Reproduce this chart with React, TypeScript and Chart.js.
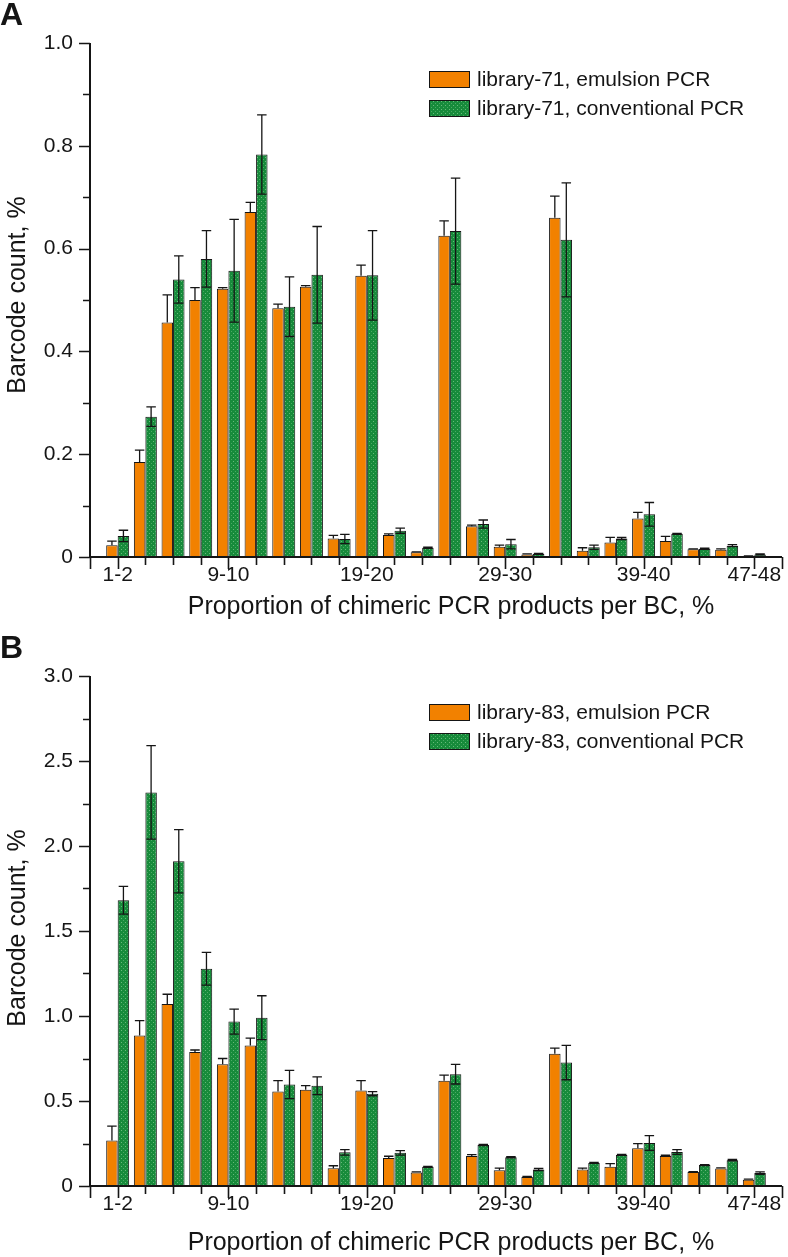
import React, { useEffect, useRef } from 'react';
import { Chart, registerables } from 'chart.js';

Chart.register(...registerables);

// ---------- data ----------
const categories = [
  '1-2', '3-4', '5-6', '7-8', '9-10', '11-12', '13-14', '15-16', '17-18', '19-20',
  '21-22', '23-24', '25-26', '27-28', '29-30', '31-32', '33-34', '35-36', '37-38', '39-40',
  '41-42', '43-44', '45-46', '47-48',
];
const shownTickLabels = ['1-2', '9-10', '19-20', '29-30', '39-40', '47-48'];

const a_emulsion = [0.023, 0.185, 0.456, 0.500, 0.522, 0.671, 0.484, 0.526, 0.036, 0.547, 0.043, 0.009, 0.625, 0.060, 0.020, 0.005, 0.660, 0.012, 0.028, 0.075, 0.031, 0.015, 0.014, 0.001];
const a_emulsionErr = [0.008, 0.023, 0.054, 0.024, 0.002, 0.019, 0.008, 0.002, 0.006, 0.021, 0.002, 0.001, 0.029, 0.002, 0.003, 0.001, 0.042, 0.006, 0.010, 0.012, 0.009, 0.001, 0.002, 0.001];
const a_conventional = [0.041, 0.273, 0.540, 0.580, 0.557, 0.783, 0.487, 0.549, 0.035, 0.548, 0.051, 0.018, 0.634, 0.064, 0.025, 0.006, 0.617, 0.019, 0.036, 0.083, 0.045, 0.016, 0.022, 0.005];
const a_conventionalErr = [0.011, 0.019, 0.046, 0.055, 0.100, 0.077, 0.058, 0.094, 0.009, 0.087, 0.005, 0.001, 0.103, 0.008, 0.009, 0.001, 0.111, 0.004, 0.002, 0.023, 0.001, 0.001, 0.002, 0.001];

const b_emulsion = [0.267, 0.885, 1.070, 0.788, 0.716, 0.827, 0.556, 0.566, 0.105, 0.562, 0.165, 0.080, 0.619, 0.177, 0.093, 0.053, 0.778, 0.097, 0.113, 0.222, 0.177, 0.082, 0.103, 0.037];
const b_emulsionErr = [0.085, 0.088, 0.058, 0.012, 0.034, 0.043, 0.064, 0.024, 0.014, 0.058, 0.010, 0.003, 0.033, 0.008, 0.012, 0.003, 0.033, 0.008, 0.019, 0.027, 0.004, 0.003, 0.004, 0.003];
const b_conventional = [1.681, 2.315, 1.910, 1.278, 0.967, 0.990, 0.597, 0.590, 0.198, 0.543, 0.195, 0.113, 0.658, 0.241, 0.169, 0.097, 0.726, 0.136, 0.183, 0.253, 0.200, 0.123, 0.152, 0.076];
const b_conventionalErr = [0.082, 0.275, 0.186, 0.096, 0.074, 0.129, 0.083, 0.052, 0.016, 0.012, 0.013, 0.003, 0.058, 0.004, 0.003, 0.006, 0.101, 0.003, 0.003, 0.043, 0.014, 0.003, 0.004, 0.007];

const yTitle = 'Barcode count, %';
const xTitle = 'Proportion of chimeric PCR products per BC, %';

// ---------- styles ----------
const FONT = '"Liberation Sans", Arial, Helvetica, sans-serif';
const ORANGE = '#f28100';
const GREEN = '#178b3b';
const INK = '#151515';

function greenPattern(): CanvasPattern | string {
  const c = document.createElement('canvas');
  c.width = 4;
  c.height = 4;
  const g = c.getContext('2d');
  if (!g) return GREEN;
  g.fillStyle = GREEN;
  g.fillRect(0, 0, 4, 4);
  g.fillStyle = 'rgba(170,225,175,0.55)';
  g.fillRect(1, 1, 1, 1);
  g.fillStyle = 'rgba(170,225,175,0.35)';
  g.fillRect(3, 3, 1, 1);
  const p = g.createPattern(c, 'repeat');
  return p || GREEN;
}

type PanelProps = {
  letter: string;
  top: number;
  height: number;
  xTitleY: number;
  yMax: number;
  yMajor: number;
  yMinor: number;
  emulsion: number[];
  emulsionErr: number[];
  conventional: number[];
  conventionalErr: number[];
  legend: string[];
};

function Panel(props: PanelProps) {
  const ref = useRef<HTMLCanvasElement | null>(null);

  useEffect(() => {
    const canvas = ref.current;
    if (!canvas) return;
    const pattern = greenPattern();
    const errs = [props.emulsionErr, props.conventionalErr];

    const decor = {
      id: 'decor',
      afterDatasetsDraw(chart: any) {
        const ctx = chart.ctx as CanvasRenderingContext2D;
        const xs = chart.scales.x;
        const ys = chart.scales.y;
        const area = chart.chartArea;
        ctx.save();
        // error bars
        ctx.strokeStyle = INK;
        ctx.lineWidth = 1.3;
        chart.data.datasets.forEach((ds: any, di: number) => {
          const meta = chart.getDatasetMeta(di);
          meta.data.forEach((bar: any, i: number) => {
            const v = ds.data[i].y;
            const e = errs[di][i];
            const x = bar.x;
            const half = bar.width / 2 - 1;
            const yTop = ys.getPixelForValue(v);
            const yUp = ys.getPixelForValue(v + e);
            ctx.beginPath();
            ctx.moveTo(x, yTop);
            ctx.lineTo(x, yUp);
            ctx.moveTo(x - half, yUp);
            ctx.lineTo(x + half, yUp);
            if (di === 1) {
              const yDn = ys.getPixelForValue(Math.max(0, v - e));
              ctx.moveTo(x, yTop);
              ctx.lineTo(x, yDn);
              ctx.moveTo(x - half, yDn);
              ctx.lineTo(x + half, yDn);
            }
            ctx.stroke();
          });
        });
        // axes
        ctx.strokeStyle = INK;
        ctx.lineWidth = 2;
        ctx.beginPath();
        ctx.moveTo(area.left, area.top);
        ctx.lineTo(area.left, area.bottom);
        ctx.lineTo(area.right, area.bottom);
        ctx.stroke();
        // y ticks
        ctx.lineWidth = 1.6;
        ctx.beginPath();
        const nMinor = Math.round(props.yMax / props.yMinor);
        for (let k = 0; k <= nMinor; k++) {
          const v = k * props.yMinor;
          const y = Math.round(ys.getPixelForValue(v)) + 0.5;
          const isMajor = Math.abs(v / props.yMajor - Math.round(v / props.yMajor)) < 1e-6;
          ctx.moveTo(area.left, y);
          ctx.lineTo(area.left - (isMajor ? 11 : 7), y);
        }
        // x ticks
        for (let k = 0; k <= categories.length + 1; k++) {
          const x = Math.round(xs.getPixelForValue(k)) + 0.5;
          const lab = categories[k - 1];
          const isMajor = k === 0 || k === categories.length + 1 || shownTickLabels.includes(lab);
          ctx.moveTo(x, area.bottom);
          ctx.lineTo(x, area.bottom + (isMajor ? 12 : 8));
        }
        ctx.stroke();
        ctx.restore();
      },
      afterDraw(chart: any) {
        const ctx = chart.ctx as CanvasRenderingContext2D;
        ctx.save();
        ctx.fillStyle = INK;
        // panel letter
        ctx.font = `bold 32px ${FONT}`;
        ctx.textAlign = 'left';
        ctx.textBaseline = 'alphabetic';
        ctx.fillText(props.letter, 0, 25);
        // x title
        ctx.font = `25px ${FONT}`;
        ctx.textAlign = 'center';
        ctx.fillText(xTitle, 451, props.xTitleY);
        // y title
        ctx.save();
        ctx.translate(18, 295);
        ctx.rotate(-Math.PI / 2);
        ctx.textBaseline = 'middle';
        ctx.fillText(yTitle, 0, 0);
        ctx.restore();
        // legend
        const fills: (string | CanvasPattern)[] = [ORANGE, pattern];
        const rows = [71, 100];
        ctx.font = `21px ${FONT}`;
        ctx.textAlign = 'left';
        ctx.textBaseline = 'middle';
        rows.forEach((y, i) => {
          ctx.fillStyle = fills[i] as any;
          ctx.fillRect(429, y, 41, 17);
          ctx.strokeStyle = INK;
          ctx.lineWidth = 1;
          ctx.strokeRect(429.5, y + 0.5, 40, 16);
          ctx.fillStyle = INK;
          ctx.fillText(props.legend[i], 477, y + 9);
        });
        ctx.restore();
      },
    };

    const chart = new Chart(canvas, {
      type: 'bar',
      data: {
        datasets: [
          {
            label: props.legend[0],
            data: props.emulsion.map((v, i) => ({ x: i + 1, y: v })),
            backgroundColor: ORANGE,
            borderColor: INK,
            borderWidth: 1,
            borderSkipped: false,
            categoryPercentage: 0.83,
            barPercentage: 1,
          },
          {
            label: props.legend[1],
            data: props.conventional.map((v, i) => ({ x: i + 1, y: v })),
            backgroundColor: pattern as any,
            borderColor: INK,
            borderWidth: 1,
            borderSkipped: false,
            categoryPercentage: 0.83,
            barPercentage: 1,
          },
        ],
      },
      options: {
        animation: false,
        responsive: false,
        maintainAspectRatio: false,
        layout: { padding: { top: 43, right: 1, left: 0, bottom: 0 } },
        plugins: { legend: { display: false }, tooltip: { enabled: false } },
        scales: {
          x: {
            type: 'linear',
            min: 0,
            max: categories.length + 1,
            offset: false,
            grid: { display: false, drawTicks: false },
            border: { display: false },
            ticks: {
              stepSize: 1,
              autoSkip: false,
              maxRotation: 0,
              padding: 6,
              color: INK,
              font: { family: FONT, size: 21 },
              callback: (v: any) => {
                const lab = categories[Number(v) - 1];
                return lab && shownTickLabels.includes(lab) ? lab : '';
              },
            },
            afterFit: (s: any) => {
              s.height = 71;
            },
          },
          y: {
            min: 0,
            max: props.yMax,
            grid: { display: false, drawTicks: false },
            border: { display: false },
            ticks: {
              stepSize: props.yMajor,
              padding: 17,
              color: INK,
              font: { family: FONT, size: 21 },
              callback: (v: any) => (Number(v) === 0 ? '0' : Number(v).toFixed(1)),
            },
            afterFit: (s: any) => {
              s.width = 90;
            },
          },
        },
      },
      plugins: [decor],
    } as any);

    return () => chart.destroy();
  }, []);

  return (
    <canvas
      ref={ref}
      width={788}
      height={props.height}
      style={{ position: 'absolute', left: 0, top: props.top, width: 788, height: props.height }}
    />
  );
}

export default function App() {
  return (
    <div style={{ position: 'absolute', left: 0, top: 0, width: 788, height: 1257, background: '#fff' }}>
      <Panel
        letter="A"
        top={0}
        height={628}
        xTitleY={614}
        yMax={1.0}
        yMajor={0.2}
        yMinor={0.1}
        emulsion={a_emulsion}
        emulsionErr={a_emulsionErr}
        conventional={a_conventional}
        conventionalErr={a_conventionalErr}
        legend={['library-71, emulsion PCR', 'library-71, conventional PCR']}
      />
      <Panel
        letter="B"
        top={633}
        height={624}
        xTitleY={617}
        yMax={3.0}
        yMajor={0.5}
        yMinor={0.25}
        emulsion={b_emulsion}
        emulsionErr={b_emulsionErr}
        conventional={b_conventional}
        conventionalErr={b_conventionalErr}
        legend={['library-83, emulsion PCR', 'library-83, conventional PCR']}
      />
    </div>
  );
}
